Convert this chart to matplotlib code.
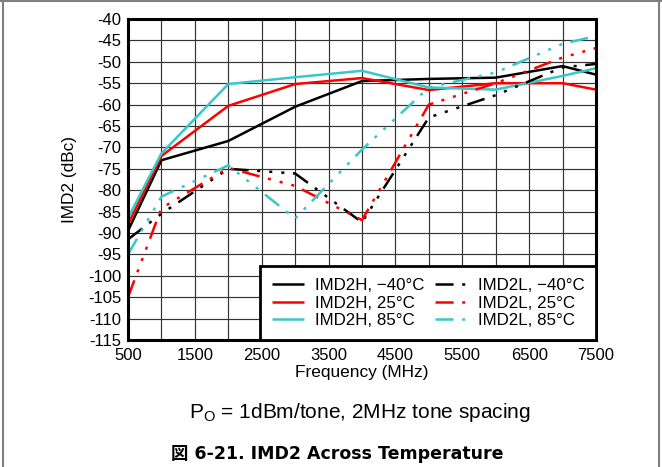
import matplotlib
matplotlib.use("Agg")
import matplotlib.pyplot as plt
from matplotlib.lines import Line2D

plt.rcParams["font.family"] = ["Liberation Sans", "DejaVu Sans"]
plt.rcParams["mathtext.fontset"] = "custom"
plt.rcParams["mathtext.rm"] = "Liberation Sans"
plt.rcParams["mathtext.it"] = "Liberation Sans:italic"
plt.rcParams["lines.scale_dashes"] = False
plt.rcParams["axes.unicode_minus"] = False

# Frequency points (MHz)
freq = [500, 1000, 2000, 3000, 4000, 5000, 6000, 7000, 7500]

# IMD2 (dBc), high-side products
imd2h_m40 = [-89.5, -73.0, -68.5, -60.5, -54.5, -54.0, -53.7, -51.0, -53.0]
imd2h_25 = [-88.0, -72.0, -60.3, -55.2, -53.8, -56.6, -55.0, -55.0, -56.5]
imd2h_85 = [-86.5, -71.4, -55.2, -53.6, -52.1, -56.0, -56.5, -53.3, -51.5]

# IMD2 (dBc), low-side products
imd2l_m40 = [-91.5, -85.5, -75.0, -76.1, -87.5, -63.0, -57.8, -51.3, -50.5]
imd2l_25 = [-105.0, -84.2, -74.8, -79.0, -87.0, -60.0, -55.0, -49.0, -46.8]
imd2l_85 = [-95.0, -81.5, -74.2, -86.6, -70.5, -56.0, -52.5, -45.8, -44.0]

labels = ["IMD2H, \u221240\u00b0C", "IMD2H, 25\u00b0C", "IMD2H, 85\u00b0C",
          "IMD2L, \u221240\u00b0C", "IMD2L, 25\u00b0C", "IMD2L, 85\u00b0C"]

x_ticks = [500, 1500, 2500, 3500, 4500, 5500, 6500, 7500]
x_tick_labels = ["500", "1500", "2500", "3500", "4500", "5500", "6500", "7500"]
y_ticks = list(range(-115, -39, 5))
y_tick_labels = [str(v) for v in y_ticks]

BLACK = "#000000"
RED = "#ff0000"
CYAN = "#38c8c8"
SOLID = "-"
LONG_SHORT = (0, (13.0, 6.2, 2.2, 6.5, 2.2, 6.5, 2.2, 6.2))

series = [
    (imd2h_m40, BLACK, SOLID),
    (imd2h_25, RED, SOLID),
    (imd2h_85, CYAN, SOLID),
    (imd2l_m40, BLACK, LONG_SHORT),
    (imd2l_25, RED, LONG_SHORT),
    (imd2l_85, CYAN, LONG_SHORT),
]

fig = plt.figure(figsize=(6.62, 4.67), dpi=100)
ax = fig.add_axes([128 / 662, 1 - 340 / 467, 468 / 662, 321 / 467])

for (vals, color, ls), lab in zip(series, labels):
    ax.plot(freq, vals, color=color, linestyle=ls, linewidth=1.8, label=lab,
            solid_capstyle="butt", dash_capstyle="butt")

ax.set_xlim(500, 7500)
ax.set_ylim(-115, -40)
ax.set_xticks(x_ticks)
ax.set_xticklabels(x_tick_labels)
ax.set_xticks(range(1000, 7500, 1000), minor=True)
ax.set_yticks(y_ticks)
ax.set_yticklabels(y_tick_labels)
ax.tick_params(which="both", length=0, labelsize=12)
ax.tick_params(axis="x", pad=6)
ax.tick_params(axis="y", pad=4.5)
ax.grid(True, which="both", color="#333333", linewidth=0.85)
ax.set_axisbelow(True)
for sp in ax.spines.values():
    sp.set_linewidth(2.2)
    sp.set_color("black")

ax.set_xlabel("Frequency (MHz)", fontsize=12.4, labelpad=1)
ax.set_ylabel("IMD2 (dBc)", fontsize=12.4, labelpad=8)

leg = ax.legend(ncol=2, loc="lower right", bbox_to_anchor=(1.0, 0.0),
                borderaxespad=0, fontsize=12.2, frameon=True, fancybox=False,
                framealpha=1, edgecolor="black", handlelength=1.9,
                handletextpad=0.6, columnspacing=0.66, labelspacing=0.15,
                borderpad=0.7)
leg.get_frame().set_linewidth(2.0)

fig.text(360 / 662, 1 - 418 / 467, r"P$_\mathrm{O}$ = 1dBm/tone, 2MHz tone spacing",
         ha="center", va="baseline", fontsize=15)
fig.text(337 / 662, 1 - 459 / 467, "\u56f3 6-21. IMD2 Across Temperature",
         ha="center", va="baseline", fontsize=12.5, fontweight="bold",
         family=["DejaVu Sans", "Noto Sans CJK JP"])

# page frame
frame_kw = dict(transform=fig.transFigure, color="#808080", linewidth=1.5)
fig.add_artist(Line2D([3 / 662, 3 / 662], [0, 1], **frame_kw))
fig.add_artist(Line2D([659 / 662, 659 / 662], [0, 1], **frame_kw))
fig.add_artist(Line2D([0, 1], [1 - 1 / 467, 1 - 1 / 467], **frame_kw))

fig.savefig("out.png", dpi=100)
